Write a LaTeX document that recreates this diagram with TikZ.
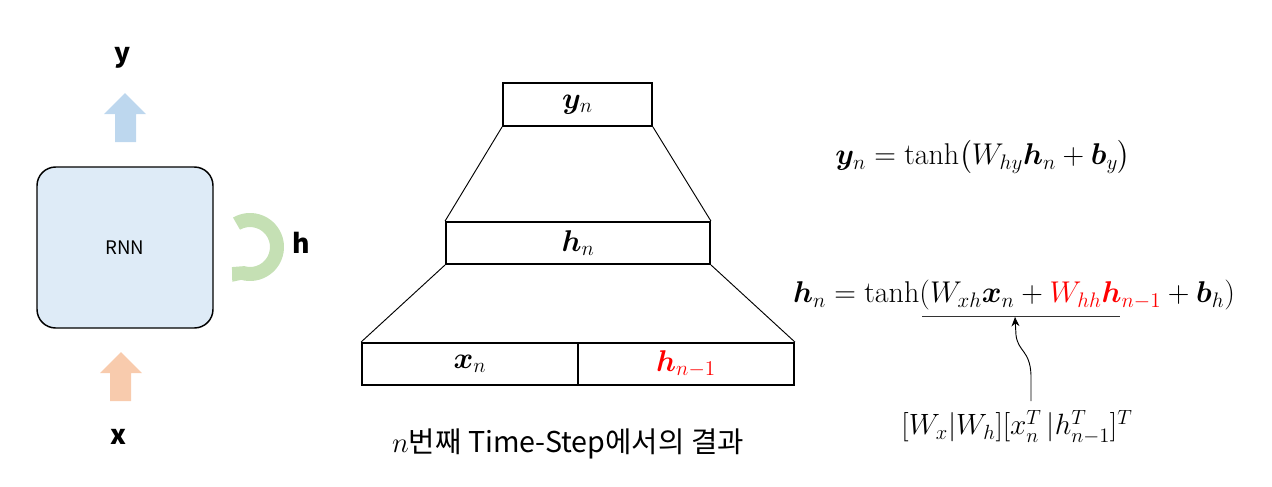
\RequirePackage{fix-cm}
\documentclass[tikz,border=0pt]{standalone}
\usepackage{amsmath,bm}
\usepackage{fontspec}
\newfontfamily\kr{Noto Sans CJK KR}
\usetikzlibrary{arrows.meta}
\definecolor{rnnfill}{HTML}{DEEBF7}
\definecolor{upblue}{HTML}{BDD7EE}
\definecolor{uporange}{HTML}{F8CBAD}
\definecolor{loopgreen}{HTML}{C5E0B4}
\definecolor{hired}{HTML}{FF0000}
\tikzset{
  lbl/.style={font=\kr\bfseries\fontsize{20}{24}\selectfont, inner sep=0pt},
  layer/.style={draw, line width=1.4pt, inner sep=0pt, font=\fontsize{22.5}{27}\selectfont},
  thinl/.style={line width=0.7pt},
  eqn/.style={inner sep=0pt, font=\fontsize{22.5}{27}\selectfont},
}
\begin{document}
\begin{tikzpicture}[x=0.75pt,y=-0.75pt]
\useasboundingbox (0,0) rectangle (1272,486);
% left RNN block
\node[draw, line width=1.1pt, fill=rnnfill, rounded corners=14pt, minimum width=176*0.75pt, minimum height=161*0.75pt, inner sep=0pt, font=\kr\fontsize{14}{16}\selectfont] (rnn) at (125,247.5) {RNN};
\fill[upblue] (104,114) -- (125,93) -- (146,114) -- (136,114) -- (136,142) -- (115,142) -- (115,114) -- cycle;
\fill[uporange] (100,373) -- (121,352) -- (142,373) -- (131,373) -- (131,401) -- (110,401) -- (110,373) -- cycle;
\node[lbl] (ylab) at (123,58) {y};
\node[lbl] (xlab) at (118,437) {x};
\node[lbl] (hlab) at (301,243) {h};
\begin{scope}[shift={(250,247)}, x=0.75pt, y=0.75pt]
\fill[loopgreen] (120:34) arc[start angle=120, end angle=-105, radius=34*0.75pt]
  -- (-117:39) -- (-132:27) -- (-107:20)
  arc[start angle=-107, end angle=120, radius=20*0.75pt] -- cycle;
\end{scope}
% middle layers
\node[layer, minimum width=149*0.75pt, minimum height=43*0.75pt] (yb) at (577.5,104.5) {$\bm{y}_n$};
\node[layer, minimum width=264*0.75pt, minimum height=42*0.75pt] (hb) at (578,243) {$\bm{h}_n$};
\node[layer, minimum width=216*0.75pt, minimum height=42*0.75pt] (xb) at (470,364) {$\bm{x}_n$};
\node[layer, minimum width=216*0.75pt, minimum height=42*0.75pt] (pb) at (686,364) {\color{hired}$\bm{h}_{n-1}$};
\draw[thinl] (yb.south west) -- (hb.north west);
\draw[thinl] (yb.south east) -- (hb.north east);
\draw[thinl] (hb.south west) -- (xb.north west);
\draw[thinl] (hb.south east) -- (pb.north east);
\node[inner sep=0pt, font=\kr\fontsize{21.5}{25}\selectfont] (kc) at (568,444) {$n$번째 Time-Step에서의 결과};
% formulas
\node[eqn] (fy) at (983,157) {$\bm{y}_n=\tanh\bigl(W_{hy}\bm{h}_n+\bm{b}_y\bigr)$};
\node[eqn] (fh) at (1014,295) {$\bm{h}_n=\tanh(W_{xh}\bm{x}_n+{\color{hired}W_{hh}\bm{h}_{n-1}}+\bm{b}_h)$};
\coordinate (ul1) at (922,316);
\coordinate (ul2) at (1120,316);
\coordinate (ulm) at (1015,317);
\draw[line width=0.6pt, black!80] (ul1) -- (ul2);
\node[eqn, font=\fontsize{22}{26}\selectfont] (fc) at (1017,427) {$[W_x|W_h][x_n^T\,|h_{n-1}^T]^T$};
\coordinate (ab) at (1031,401);
\draw[line width=0.7pt, -{Stealth[length=7pt,width=6pt]}] (ab) -- (1031,375) .. controls (1030,350) and (1018,352) .. (1016,335) -- (ulm);
\end{tikzpicture}
\end{document}
